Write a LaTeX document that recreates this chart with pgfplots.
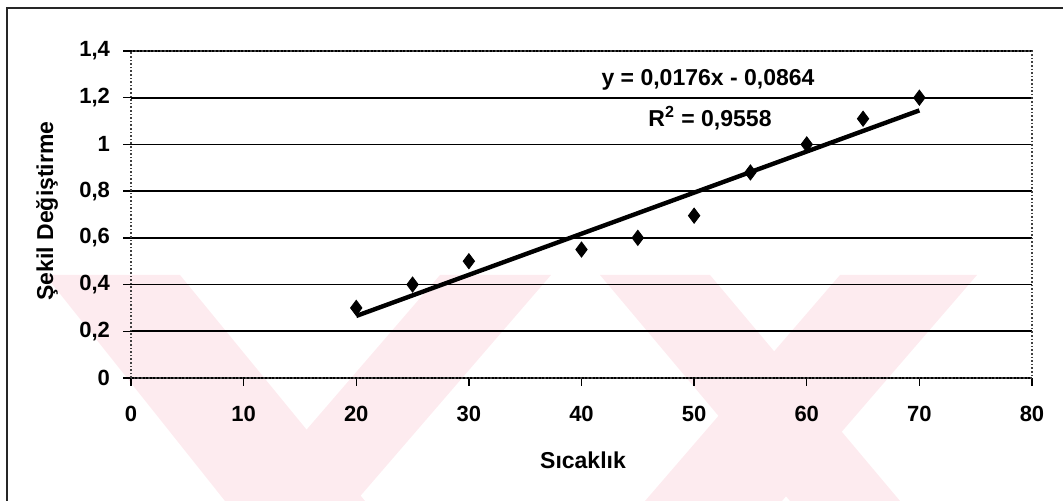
\documentclass[border=0pt]{standalone}
\usepackage{pgfplots}
\pgfplotsset{compat=1.18}
\usepackage{fontspec}
\setmainfont{Liberation Sans}
\definecolor{wm}{RGB}{253,235,239}
\begin{document}
\begin{tikzpicture}
\begin{scope}[x=0.5pt,y=0.5pt]
\useasboundingbox (0,0) rectangle (1063,501);
% faint watermark
\fill[wm] (45,226) -- (180,226) -- (365,0) -- (225,0) -- cycle;
\fill[wm] (440,226) -- (551,226) -- (356,0) -- (245,0) -- cycle;
\fill[wm] (600,226) -- (710,226) -- (900,0) -- (790,0) -- cycle;
\fill[wm] (840,226) -- (977,226) -- (782,0) -- (645,0) -- cycle;
% outer frame
\draw[line width=0.8pt, black!85] (7,0) -- (7,493) -- (1063,493);
\end{scope}
\begin{axis}[
  at={(65.5pt,61.5pt)}, anchor=south west,
  scale only axis, width=450.5pt, height=163.5pt,
  xmin=0, xmax=80, ymin=0, ymax=1.4,
  xtick={0,10,20,30,40,50,60,70,80},
  ytick={0,0.2,0.4,0.6,0.8,1,1.2,1.4},
  ymajorgrids, major grid style={black, line width=0.8pt},
  axis line style={black!75, densely dotted, line width=0.8pt},
  tick style={black, line width=0.7pt}, tick align=outside, major tick length=4pt,
  tick pos=left,
  /pgf/number format/assume math mode=true,
  /pgf/number format/use comma,
  ticklabel style={font=\bfseries\fontsize{11}{13}\selectfont},
  yticklabel style={xshift=-3pt},
  xticklabel style={yshift=-6.5pt},
]
\addplot[only marks, mark=diamond*, mark size=3.8pt, black] coordinates {
 (20,0.3) (25,0.4) (30,0.5) (40,0.55) (45,0.6) (50,0.695) (55,0.88) (60,1.0) (65,1.11) (70,1.2)};
\addplot[black, line width=2.2pt, no marks] coordinates {(20,0.2656) (70,1.1456)};
\end{axis}
\begin{scope}[x=0.5pt,y=0.5pt]
\node[font=\bfseries\fontsize{11.5}{13}\selectfont] at (583,41) {Sıcaklık};
\node[rotate=90, font=\bfseries\fontsize{11.5}{13}\selectfont] at (47,290) {Şekil Değiştirme};
\node[font=\bfseries\fontsize{11.5}{13}\selectfont] at (708,421) {y = 0,0176x - 0,0864};
\node[font=\bfseries\fontsize{11.5}{13}\selectfont] at (710,383) {R\textsuperscript{2} = 0,9558};
\end{scope}
\end{tikzpicture}
\end{document}
